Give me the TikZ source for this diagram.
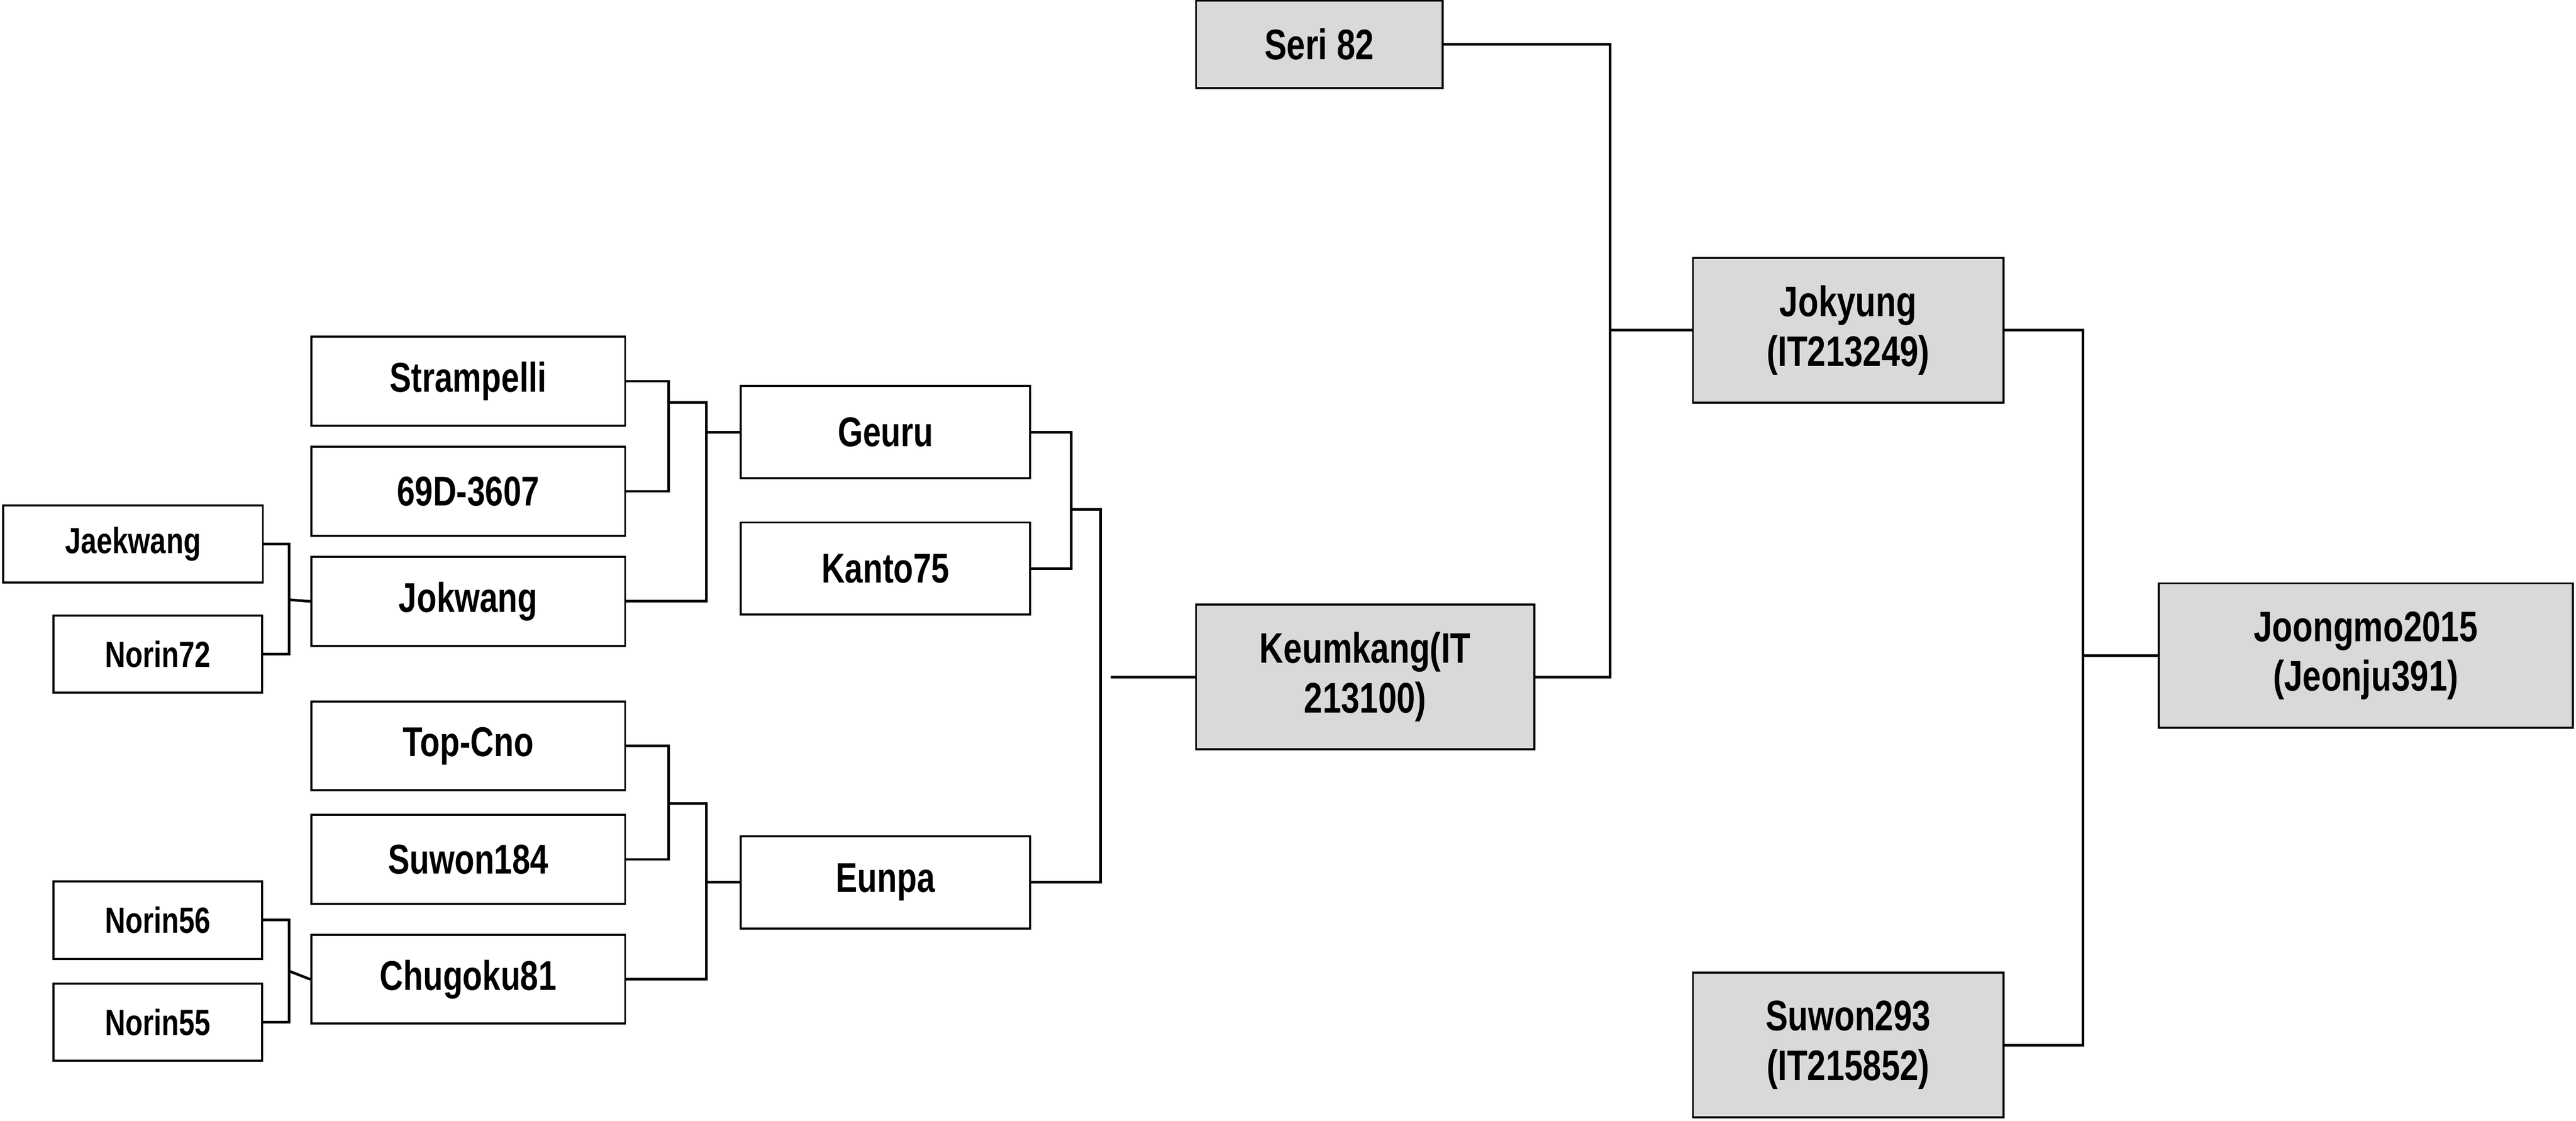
\documentclass[tikz,border=0pt]{standalone}
\usepackage{fontspec}
\setmainfont[FakeStretch=0.78]{Liberation Sans}
\usetikzlibrary{positioning}

\tikzset{
  line/.style={line width=0.45pt},
  box/.style={draw, line width=0.35pt, fill=white, minimum width=19.1mm, minimum height=5.4mm,
    inner sep=0pt, font=\fontsize{7.2}{8}\selectfont\bfseries, align=center},
  smallbox/.style={box, minimum height=4.7mm, font=\fontsize{6.3}{7}\selectfont\bfseries},
  greybox/.style={box, fill=black!15, minimum height=8.8mm, font=\fontsize{7.4}{8.6}\selectfont\bfseries}
}

\begin{document}
\begin{tikzpicture}[x=0.1mm, y=-0.1mm]
\useasboundingbox (0,0) rectangle (1568,682);

% grandparents
\node[smallbox, minimum width=15.8mm] (jaekwang) at (81,331) {Jaekwang};
\node[smallbox, minimum width=12.7mm] (norin72) at (96,398) {Norin72};
\node[smallbox, minimum width=12.7mm] (norin56) at (96,560) {Norin56};
\node[smallbox, minimum width=12.7mm] (norin55) at (96,622) {Norin55};

% second column
\node[box] (strampelli) at (285,232) {Strampelli};
\node[box] (d3607) at (285,299) {69D-3607};
\node[box] (jokwang) at (285,366) {Jokwang};
\node[box] (topcno) at (285,454) {Top-Cno};
\node[box] (suwon184) at (285,523) {Suwon184};
\node[box] (chugoku) at (285,596) {Chugoku81};

% third column
\node[box, minimum width=17.6mm, minimum height=5.6mm] (geuru) at (539,263) {Geuru};
\node[box, minimum width=17.6mm, minimum height=5.6mm] (kanto) at (539,346) {Kanto75};
\node[box, minimum width=17.6mm, minimum height=5.6mm] (eunpa) at (539,537) {Eunpa};

% grey ones
\node[greybox, minimum width=20.6mm] (keumkang) at (831,412) {Keumkang(IT\\213100)};
\node[greybox, minimum width=15mm, minimum height=5.3mm] (seri) at (803,27) {Seri 82};
\node[greybox, minimum width=18.9mm] (jokyung) at (1125,201) {Jokyung\\(IT213249)};
\node[greybox, minimum width=18.9mm] (suwon293) at (1125,636) {Suwon293\\(IT215852)};
\node[greybox, minimum width=25.2mm] (joongmo) at (1440,399) {Joongmo2015\\(Jeonju391)};

% brackets
\draw[line] (jaekwang.east) -| (176,398) -- (norin72.east);
\draw[line] (176,365) -- (jokwang.west);
\draw[line] (norin56.east) -| (176,622) -- (norin55.east);
\draw[line] (176,591) -- (chugoku.west);

\draw[line] (strampelli.east) -| (407,299) -- (d3607.east);
\draw[line] (407,245) -- (430,245) |- (jokwang.east);
\draw[line] (430,263) -- (geuru.west);
\draw[line] (topcno.east) -| (407,523) -- (suwon184.east);
\draw[line] (407,489) -- (430,489) |- (chugoku.east);
\draw[line] (430,537) -- (eunpa.west);

\draw[line] (geuru.east) -| (652,346) -- (kanto.east);
\draw[line] (652,310) -- (670,310) |- (eunpa.east);
\draw[line] (676,412) -- (keumkang.west);

\draw[line] (seri.east) -| (980,412) -- (keumkang.east);
\draw[line] (980,201) -- (jokyung.west);
\draw[line] (jokyung.east) -| (1268,636) -- (suwon293.east);
\draw[line] (1268,399) -- (joongmo.west);
\end{tikzpicture}
\end{document}
